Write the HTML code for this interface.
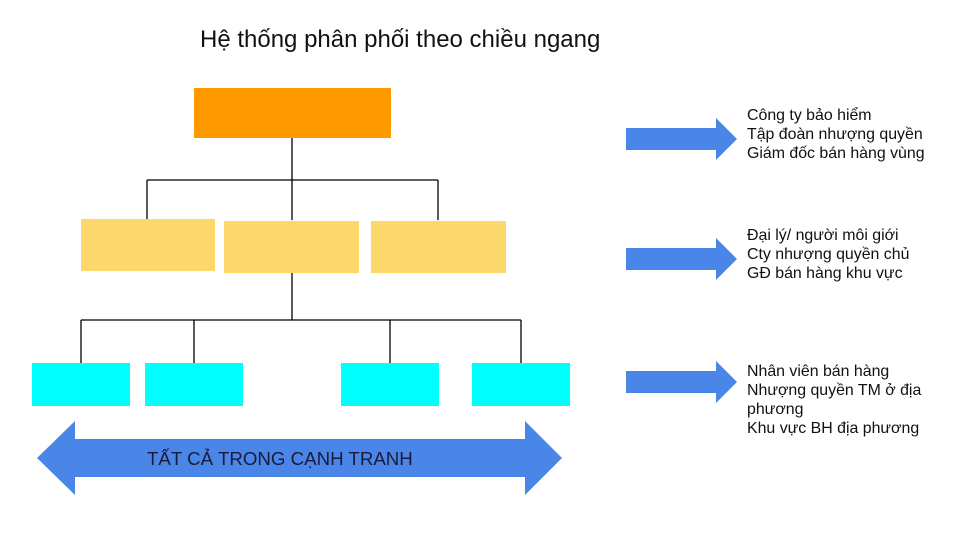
<!DOCTYPE html>
<html><head><meta charset="utf-8"><style>
body{margin:0;background:#fff;width:958px;height:537px;overflow:hidden;position:relative;font-family:"Liberation Sans",Arial,sans-serif}
.t{position:absolute;left:747px;font-size:15.9px;line-height:19px;color:#111}
</style></head><body>
<div style="position:absolute;left:200px;top:26px;font-size:24px;color:#111">Hệ thống phân phối theo chiều ngang</div>
<svg width="958" height="537" style="position:absolute;left:0;top:0">
<rect x="194" y="88" width="197" height="50" fill="#ff9900"/>
<g stroke="#000" stroke-width="1.3" fill="none">
<path d="M292 138V220M147 180H438M147 180V220M438 180V220"/>
<path d="M292 273V320M81 320H521M81 320V363M194 320V363M390 320V363M521 320V363"/>
</g>
<rect x="81" y="219" width="134" height="52" fill="#fcd86c"/>
<rect x="224" y="221" width="135" height="52" fill="#fcd86c"/>
<rect x="371" y="221" width="135" height="52" fill="#fcd86c"/>
<rect x="32" y="363" width="98" height="43" fill="#00ffff"/>
<rect x="145" y="363" width="98" height="43" fill="#00ffff"/>
<rect x="341" y="363" width="98" height="43" fill="#00ffff"/>
<rect x="472" y="363" width="98" height="43" fill="#00ffff"/>
<polygon points="37,458 75,421 75,439 525,439 525,421 562,458 525,495 525,477 75,477 75,495" fill="#4a86e8"/>
<text x="147" y="465" font-size="18.7" fill="#1a1a3a" font-family="Liberation Sans,sans-serif">TẤT CẢ TRONG CẠNH TRANH</text>
<g fill="#4a86e8">
<polygon points="626,128 716,128 716,118 737,139 716,160 716,150 626,150"/>
<polygon points="626,248 716,248 716,238 737,259 716,280 716,270 626,270"/>
<polygon points="626,371 716,371 716,361 737,382 716,403 716,393 626,393"/>
</g>
</svg>
<div class="t" style="top:106px">Công ty bảo hiểm<br>Tập đoàn nhượng quyền<br>Giám đốc bán hàng vùng</div>
<div class="t" style="top:226px">Đại lý/ người môi giới<br>Cty nhượng quyền chủ<br>GĐ bán hàng khu vực</div>
<div class="t" style="top:362px">Nhân viên bán hàng<br>Nhượng quyền TM ở địa<br>phương<br>Khu vực BH địa phương</div>
</body></html>
